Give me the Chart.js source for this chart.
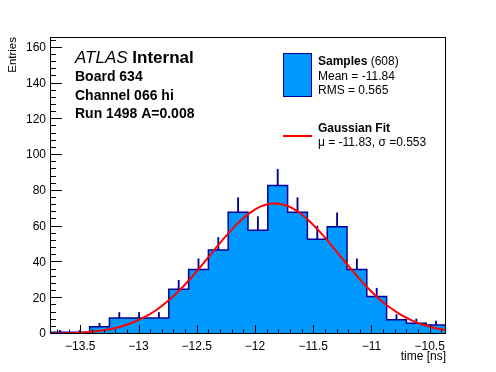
<!DOCTYPE html>
<html>
<head>
<meta charset="utf-8">
<script src="https://cdn.jsdelivr.net/npm/chart.js@4.4.0/dist/chart.umd.min.js"></script>
<style>
  html, body { margin: 0; padding: 0; background: #fff; }
</style>
</head>
<body>
<canvas id="myChart" width="496" height="372"></canvas>
<script>
// histogram: 20 bins from binLow, width binWidth
const binLow = -13.76;
const binWidth = 0.17;
const counts = [1, 1, 4, 9, 9, 9, 25, 36, 47, 68, 58, 83, 68, 53, 60, 36, 21, 8, 6, 5];
const errors = [1, 1, 2, 3, 3, 3, 5, 6, 6.9, 8.2, 7.6, 9.1, 8.2, 7.3, 7.7, 6, 4.6, 2.8, 2.4, 2.2];

// gaussian fit curve
const fitX = [-13.76, -13.65, -13.55, -13.45, -13.35, -13.25, -13.15, -13.05, -12.95, -12.85,
              -12.75, -12.65, -12.55, -12.45, -12.35, -12.25, -12.15, -12.05, -11.95, -11.85,
              -11.75, -11.65, -11.55, -11.45, -11.35, -11.25, -11.15, -11.05, -10.95, -10.85,
              -10.75, -10.65, -10.55, -10.45, -10.36];
const fitY = [0.17, 0.32, 0.58, 1.0, 1.67, 2.7, 4.23, 6.4, 9.39, 13.3,
              18.3, 24.3, 31.3, 38.9, 46.9, 54.7, 61.7, 67.4, 71.3, 73.0,
              72.2, 69.2, 64.2, 57.6, 50.1, 42.1, 34.3, 27.0, 20.6, 15.2,
              10.8, 7.49, 5.01, 3.24, 2.13];

const xTicks = [-13.5, -13, -12.5, -12, -11.5, -11, -10.5];
const yTicks = [0, 20, 40, 60, 80, 100, 120, 140, 160];

const FONT = "'Liberation Sans', Arial, Helvetica, sans-serif";
const fillBlue = '#0099ff';
const lineNavy = '#000099';

// stepped outline points at bin edges
const histPoints = counts.map((c, i) => ({ x: binLow + i * binWidth, y: c }));
histPoints.push({ x: binLow + counts.length * binWidth, y: counts[counts.length - 1] });

const errPoints = counts.map((c, i) => ({ x: binLow + (i + 0.5) * binWidth, y: [c, c + errors[i]] }));
const fitPoints = fitX.map((x, i) => ({ x: x, y: fitY[i] }));

function label(v) {
    return v < 0 ? '\u2212' + String(-v) : String(v);
}

// frame, ticks inside the frame, text and legend
const decorations = {
    id: 'decorations',
    afterDatasetsDraw(chart) {
        const { ctx, chartArea: a, scales: { x, y } } = chart;
        ctx.save();
        ctx.strokeStyle = '#000';
        ctx.lineWidth = 1;
        ctx.strokeRect(a.left + 0.5, a.top + 0.5, a.right - a.left - 1, a.bottom - a.top - 1);

        ctx.beginPath();
        for (let v = 0; v <= y.max; v += 4) {
            const py = Math.round(y.getPixelForValue(v)) - 0.5;
            const len = v % 20 === 0 ? 12 : 6;
            ctx.moveTo(a.left, py);
            ctx.lineTo(a.left + len, py);
        }
        for (let k = -137; k <= -104; k++) {
            const px = Math.round(x.getPixelForValue(k / 10)) + 0.5;
            const len = k % 5 === 0 ? 9 : 4.5;
            ctx.moveTo(px, a.bottom);
            ctx.lineTo(px, a.bottom - len);
        }
        ctx.stroke();

        ctx.fillStyle = '#000';
        ctx.textBaseline = 'middle';
        ctx.textAlign = 'left';
        ctx.font = 'italic 17px ' + FONT;
        ctx.fillText('ATLAS', 75, 58);
        const w = ctx.measureText('ATLAS ').width;
        ctx.font = 'bold 17px ' + FONT;
        ctx.fillText('Internal', 75 + w, 58);
        ctx.font = 'bold 14px ' + FONT;
        ctx.fillText('Board 634', 75, 77);
        ctx.fillText('Channel 066 hi', 75, 96);
        ctx.fillText('Run 1498 A=0.008', 75, 114);

        // legend
        ctx.fillStyle = fillBlue;
        ctx.fillRect(283, 53, 29, 44);
        ctx.strokeStyle = lineNavy;
        ctx.strokeRect(283.5, 53.5, 28, 43);
        ctx.fillStyle = '#000';
        ctx.font = 'bold 12px ' + FONT;
        ctx.fillText('Samples', 318, 62);
        const sw = ctx.measureText('Samples').width;
        ctx.font = '12px ' + FONT;
        ctx.fillText(' (608)', 318 + sw, 62);
        ctx.fillText('Mean = -11.84', 318, 77);
        ctx.fillText('RMS = 0.565', 318, 91);

        ctx.strokeStyle = '#ff0000';
        ctx.lineWidth = 2;
        ctx.beginPath();
        ctx.moveTo(283, 136);
        ctx.lineTo(312, 136);
        ctx.stroke();
        ctx.font = 'bold 12px ' + FONT;
        ctx.fillText('Gaussian Fit', 318, 129);
        ctx.font = '12px ' + FONT;
        ctx.fillText('\u03bc = -11.83, \u03c3 =0.553', 318, 143);
        ctx.restore();
    }
};

const ctx = document.getElementById('myChart').getContext('2d');
const myChart = new Chart(ctx, {
    type: 'line',
    data: {
        datasets: [
            {
                type: 'line',
                label: 'Gaussian Fit',
                data: fitPoints,
                borderColor: '#ff0000',
                borderWidth: 2,
                pointRadius: 0,
                cubicInterpolationMode: 'monotone',
                fill: false,
                order: 0
            },
            {
                type: 'line',
                label: 'Samples',
                data: histPoints,
                stepped: true,
                borderColor: lineNavy,
                borderWidth: 1.5,
                backgroundColor: fillBlue,
                pointRadius: 0,
                fill: 'origin',
                order: 1
            },
            {
                type: 'bar',
                label: 'errors',
                data: errPoints,
                backgroundColor: lineNavy,
                barThickness: 1.2,
                order: 2
            }
        ]
    },
    options: {
        responsive: false,
        animation: false,
        devicePixelRatio: 1,
        layout: { padding: { top: 37, right: 50, left: 0, bottom: 0 } },
        plugins: { legend: { display: false }, tooltip: { enabled: false } },
        scales: {
            x: {
                type: 'linear',
                min: -13.76,
                max: -10.36,
                offset: false,
                grid: { display: false, drawTicks: false },
                border: { display: false },
                afterBuildTicks: s => { s.ticks = xTicks.map(v => ({ value: v })); },
                afterFit: s => { s.height = 38; },
                ticks: {
                    color: '#000',
                    padding: 5,
                    maxRotation: 0,
                    autoSkip: false,
                    font: { family: FONT, size: 12 },
                    callback: v => label(v)
                },
                title: {
                    display: true,
                    text: 'time [ns]',
                    align: 'end',
                    color: '#000',
                    font: { family: FONT, size: 12 },
                    padding: { top: 0, bottom: 8 }
                }
            },
            y: {
                min: 0,
                max: 166,
                grid: { display: false, drawTicks: false },
                border: { display: false },
                afterBuildTicks: s => { s.ticks = yTicks.map(v => ({ value: v })); },
                afterFit: s => { s.width = 50; },
                ticks: {
                    color: '#000',
                    padding: 4,
                    font: { family: FONT, size: 12 },
                    callback: v => String(v)
                },
                title: {
                    display: true,
                    text: 'Entries',
                    align: 'end',
                    color: '#000',
                    font: { family: FONT, size: 11.5 },
                    padding: { top: 6, bottom: 0 }
                }
            }
        }
    },
    plugins: [decorations]
});
</script>
</body>
</html>
